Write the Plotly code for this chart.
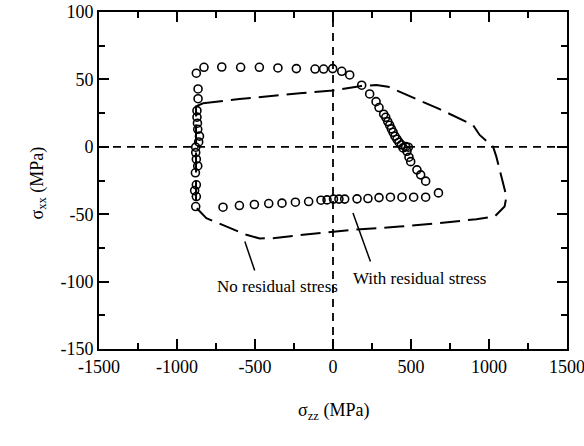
import plotly.graph_objects as go

# With residual stress (open circles)
with_x = [-876, -827, -713, -592, -472, -353, -235, -115, -60, -2, 56, 107, 184, 235, 276, 295,
          325, 338, 351, 363, 374, 385, 397, 410, 423, 438, 449, 466, 483, 474, 487, 498, 538,
          562, 594, 676,
          594, 517, 442, 368, 295, 224, 154, 75, 38, 3, -38, -77, -156, -241, -327, -412, -504,
          -600, -705,
          -880, -876, -887, -876, -882, -867, -876, -880, -880, -861, -856, -867, -869, -872,
          -872, -865, -865]
with_y = [54.6, 59.0, 59.2, 59.0, 59.0, 58.5, 58.0, 57.7, 57.7, 58.0, 56.0, 53.3, 45.7, 39.2,
          33.5, 29.1, 24.2, 21.9, 18.7, 16.0, 13.3, 10.8, 7.9, 5.6, 3.4, 1.4, -0.8, 0.1, -0.3,
          -3.3, -7.7, -11.0, -17.1, -20.8, -25.5, -34.2,
          -37.4, -37.4, -37.4, -37.4, -37.7, -38.4, -38.6, -38.8, -38.8, -38.8, -39.4, -39.6,
          -40.6, -41.1, -41.8, -42.1, -42.8, -43.6, -44.8,
          -44.3, -36.9, -32.5, -28.2, -19.3, -14.2, -9.2, -4.3, -0.3, 3.6, 7.9, 13.0, 17.5,
          22.0, 26.8, 35.7, 42.9]

# No residual stress (long-dashed closed loop)
no_x = [-833, -600, -213, 0, 182, 278, 353, 428, 684, 897, 940, 1026, 1047, 1112, 1100, 1037,
        919, 684, 427, 128, 0, -192, -385, -470, -555, -630, -812, -878, -880, -878, -833]
no_y = [32.3, 35.5, 39.7, 41.7, 45.1, 45.9, 44.6, 40.9, 27.9, 16.2, 8.8, 0.1, -7.3, -36.9,
        -44.3, -51.7, -53.7, -56.6, -59.2, -61.6, -62.9, -65.3, -67.8, -68.0, -65.3, -61.6,
        -52.9, -45.0, 0.0, 30.0, 32.3]

x_ticks = [-1500, -1000, -500, 0, 500, 1000, 1500]
y_ticks = [-150, -100, -50, 0, 50, 100]

FONT = "Liberation Serif"
W, H = 584, 446
ML, MR, MT, MB = 99, 17, 12, 97
PW, PH = W - ML - MR, H - MT - MB

fig = go.Figure()
fig.add_trace(go.Scatter(x=no_x, y=no_y, mode="lines",
                         line=dict(color="black", width=2, dash="20px,8px"),
                         showlegend=False, hoverinfo="skip"))
fig.add_trace(go.Scatter(x=with_x, y=with_y, mode="markers",
                         marker=dict(symbol="circle-open", size=8, color="black",
                                     line=dict(width=1.6, color="black")),
                         showlegend=False))

# zero lines
fig.add_shape(type="line", x0=-1500, x1=1500, y0=0, y1=0, xref="x", yref="y",
              line=dict(color="black", width=1.8, dash="8px,6px"), layer="below")
fig.add_shape(type="line", x0=0, x1=0, y0=-150, y1=100, xref="x", yref="y",
              line=dict(color="black", width=1.8, dash="8px,6px"), layer="below")

# pointer lines
fig.add_shape(type="line", x0=-565, y0=-70.3, x1=-502, y1=-91.8, xref="x", yref="y",
              line=dict(color="black", width=1.5))
fig.add_shape(type="line", x0=128, y0=-49.2, x1=240, y1=-85.1, xref="x", yref="y",
              line=dict(color="black", width=1.5))

fig.add_annotation(x=-354, y=-103.6, xref="x", yref="y", text="No residual stress",
                   showarrow=False, font=dict(family=FONT, size=17, color="black"))
fig.add_annotation(x=556, y=-97.4, xref="x", yref="y", text="With residual stress",
                   showarrow=False, font=dict(family=FONT, size=17, color="black"))

# axis titles (positions given in page pixels, converted to paper coords)
fig.add_annotation(x=(333 - ML) / PW, y=1 - (425 - MT) / PH, xref="paper", yref="paper",
                   text="σ<sub>zz</sub> (MPa)", showarrow=False,
                   font=dict(family=FONT, size=18, color="black"))
fig.add_annotation(x=(24 - ML) / PW, y=1 - (183 - MT) / PH, xref="paper", yref="paper",
                   text="σ<sub>xx</sub> (MPa)", showarrow=False, textangle=-90,
                   font=dict(family=FONT, size=18, color="black"))

axis_common = dict(showgrid=False, zeroline=False, showline=True, linecolor="black",
                   linewidth=2, mirror="allticks", ticks="inside", ticklen=10, tickwidth=1.5,
                   tickcolor="black", automargin=False, ticklabeloverflow="allow",
                   tickfont=dict(family=FONT, size=18, color="black"))

fig.update_xaxes(range=[-1500, 1500], tickvals=x_ticks, ticktext=[str(v) for v in x_ticks],
                 minor=dict(dtick=250, tick0=0, ticks="inside", ticklen=6, tickwidth=1.5,
                            tickcolor="black"),
                 **axis_common)
fig.update_yaxes(range=[-150, 100], tickvals=y_ticks, ticktext=[str(v) for v in y_ticks],
                 minor=dict(dtick=25, tick0=0, ticks="inside", ticklen=6, tickwidth=1.5,
                            tickcolor="black"),
                 **axis_common)

fig.update_layout(width=W, height=H, margin=dict(l=ML, r=MR, t=MT, b=MB),
                  plot_bgcolor="white", paper_bgcolor="white",
                  font=dict(family=FONT, color="black"))

fig.write_html("out.html")
